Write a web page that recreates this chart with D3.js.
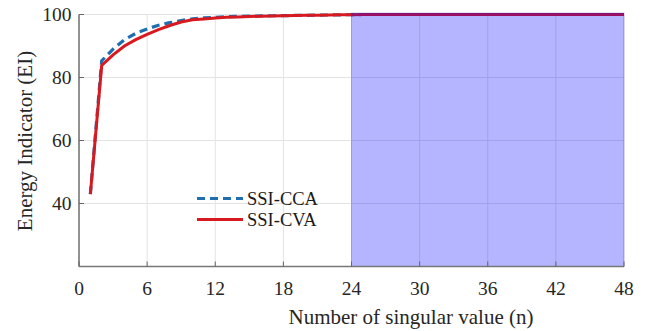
<!DOCTYPE html>
<html>
<head>
<meta charset="utf-8">
<script src="https://cdn.jsdelivr.net/npm/d3@7"></script>
<style>
  body { margin: 0; background: #fff; }
  svg { display: block; font-family: "Liberation Serif", "Times New Roman", serif; }
  .grid line { stroke: #e3e3e3; stroke-width: 1; }
  .tick-label { fill: #262626; font-size: 19.5px; }
  .axis-title { fill: #262626; font-size: 21px; }
  .legend-label { fill: #1a1a1a; font-size: 18.5px; }
</style>
</head>
<body>
<div id="chart"></div>
<script>
const nValues = [1,2,3,4,5,6,7,8,9,10,11,12,13,14,15,16,17,18,19,20,21,22,23,24,
  25,26,27,28,29,30,31,32,33,34,35,36,37,38,39,40,41,42,43,44,45,46,47,48];
const cvaValues = [43,83.8,87.2,90,92,93.7,95.2,96.5,97.6,98.3,98.6,98.9,99.1,99.2,99.35,99.45,99.55,99.6,99.7,99.75,99.8,99.85,99.9,99.95,
  100,100,100,100,100,100,100,100,100,100,100,100,100,100,100,100,100,100,100,100,100,100,100,100];
const ccaValues = [43,85.3,89,92,94,95.4,96.6,97.4,98.1,98.6,98.9,99.1,99.3,99.4,99.5,99.55,99.6,99.65,99.7,99.75,99.8,99.85,99.9,99.95,
  100,100,100,100,100,100,100,100,100,100,100,100,100,100,100,100,100,100,100,100,100,100,100,100];
const xTicks = [0,6,12,18,24,30,36,42,48];
const yTicks = [40,60,80,100];
const shadedRange = [24, 48];
const seriesNames = ["SSI-CCA", "SSI-CVA"];

const width = 646, height = 331;
const svg = d3.select("#chart").append("svg")
    .attr("width", width).attr("height", height);

const x = d3.scaleLinear().domain([0, 48]).range([79, 624]);
const y = d3.scaleLinear().domain([20, 100]).range([266.5, 14.5]);

// grid
const grid = svg.append("g").attr("class", "grid");
grid.selectAll(".gx").data(xTicks.filter(d => d > 0)).enter().append("line")
    .attr("x1", d => x(d)).attr("x2", d => x(d))
    .attr("y1", y(20)).attr("y2", y(100));
grid.selectAll(".gy").data(yTicks).enter().append("line")
    .attr("x1", x(0)).attr("x2", x(48))
    .attr("y1", d => y(d)).attr("y2", d => y(d));

// lines
const line = (vals) => d3.line()
    .x((d, i) => x(nValues[i]))
    .y(d => y(d))(vals);

svg.append("path").attr("d", line(ccaValues))
    .attr("fill", "none").attr("stroke", "#1f6fb0")
    .attr("stroke-width", 3.2).attr("stroke-dasharray", "8,5");
svg.append("path").attr("d", line(cvaValues))
    .attr("fill", "none").attr("stroke", "#d8191f")
    .attr("stroke-width", 3);

// shaded region
svg.append("rect")
    .attr("x", x(shadedRange[0])).attr("y", y(100) - 1.5)
    .attr("width", x(shadedRange[1]) - x(shadedRange[0]))
    .attr("height", y(20) - y(100) + 1.5)
    .attr("fill", "rgb(0,0,255)").attr("fill-opacity", 0.29)
    .attr("stroke", "rgba(40,40,200,0.25)").attr("stroke-width", 1);

// axes
svg.append("line").attr("x1", x(0)).attr("x2", x(0))
    .attr("y1", y(100)).attr("y2", y(20))
    .attr("stroke", "#555").attr("stroke-width", 1.3);
svg.append("line").attr("x1", x(0)).attr("x2", x(48))
    .attr("y1", y(20)).attr("y2", y(20))
    .attr("stroke", "#777").attr("stroke-width", 1.3);

// ticks
svg.selectAll(".xt").data(xTicks).enter().append("line")
    .attr("x1", d => x(d)).attr("x2", d => x(d))
    .attr("y1", y(20)).attr("y2", y(20) - 5)
    .attr("stroke", "#666").attr("stroke-width", 1);
svg.selectAll(".yt").data(yTicks).enter().append("line")
    .attr("x1", x(0)).attr("x2", x(0) + 5)
    .attr("y1", d => y(d)).attr("y2", d => y(d))
    .attr("stroke", "#666").attr("stroke-width", 1);

svg.selectAll(".xl").data(xTicks).enter().append("text")
    .attr("class", "tick-label")
    .attr("x", d => x(d)).attr("y", 294.5)
    .attr("text-anchor", "middle").text(d => d);
svg.selectAll(".yl").data(yTicks).enter().append("text")
    .attr("class", "tick-label")
    .attr("x", 71.5).attr("y", d => y(d) + 6.8)
    .attr("text-anchor", "end").text(d => d);

svg.append("text").attr("class", "axis-title")
    .attr("x", 411).attr("y", 324)
    .attr("text-anchor", "middle").text("Number of singular value (n)");
svg.append("text").attr("class", "axis-title")
    .attr("transform", "translate(32,141) rotate(-90)")
    .attr("text-anchor", "middle").text("Energy Indicator (EI)");

// legend
const legend = svg.append("g");
const legendY = [198.5, 219.5];
legend.append("line").attr("x1", 197).attr("x2", 243)
    .attr("y1", legendY[0]).attr("y2", legendY[0])
    .attr("stroke", "#1f6fb0").attr("stroke-width", 3.2).attr("stroke-dasharray", "8,5");
legend.append("line").attr("x1", 197).attr("x2", 243)
    .attr("y1", legendY[1]).attr("y2", legendY[1])
    .attr("stroke", "#d8191f").attr("stroke-width", 3);
legend.selectAll(".ll").data(seriesNames).enter().append("text")
    .attr("class", "legend-label")
    .attr("x", 247).attr("y", (d, i) => legendY[i] + 6.5)
    .text(d => d);
</script>
</body>
</html>
